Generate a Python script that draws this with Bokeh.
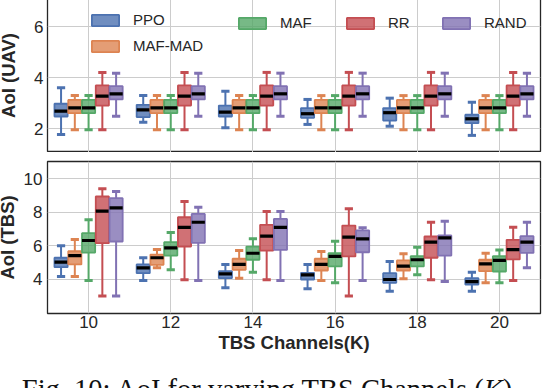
import numpy as np
from bokeh.plotting import figure
from bokeh.models import ColumnDataSource, FixedTicker, Legend, LegendItem, Div, Range1d
from bokeh.layouts import column
from bokeh.embed import file_html
from bokeh.resources import INLINE

# ---------------- data ----------------
K = [10, 12, 14, 16, 18, 20]
series = ["PPO", "MAF-MAD", "MAF", "RR", "RAND"]
colors = ["#4C72B0", "#DD8452", "#55A868", "#C44E52", "#8172B3"]
x_ticks = [10, 12, 14, 16, 18, 20]
uav_ticks = [2, 4, 6]
tbs_ticks = [4, 6, 8, 10]

# AoI (UAV): lower whisker, q1, median, q3, upper whisker
uav_ppo_lo = [1.76, 2.25, 2.03, 2.16, 2.09, 1.73]
uav_ppo_q1 = [2.47, 2.45, 2.47, 2.42, 2.31, 2.21]
uav_ppo_med = [2.68, 2.73, 2.64, 2.58, 2.62, 2.38]
uav_ppo_q3 = [2.97, 2.93, 2.90, 2.80, 2.80, 2.54]
uav_ppo_hi = [3.60, 3.29, 3.46, 3.14, 3.19, 3.03]

uav_mafmad_lo = [1.95, 1.95, 1.95, 1.95, 1.95, 1.95]
uav_mafmad_q1 = [2.60, 2.60, 2.60, 2.60, 2.60, 2.60]
uav_mafmad_med = [2.81, 2.81, 2.81, 2.81, 2.81, 2.81]
uav_mafmad_q3 = [3.12, 3.12, 3.12, 3.12, 3.12, 3.12]
uav_mafmad_hi = [3.29, 3.29, 3.29, 3.29, 3.29, 3.29]

uav_maf_lo = [1.95, 1.95, 1.95, 1.95, 1.95, 1.95]
uav_maf_q1 = [2.60, 2.60, 2.60, 2.60, 2.60, 2.60]
uav_maf_med = [2.81, 2.81, 2.81, 2.81, 2.81, 2.81]
uav_maf_q3 = [3.12, 3.12, 3.12, 3.12, 3.12, 3.12]
uav_maf_hi = [3.29, 3.29, 3.29, 3.29, 3.29, 3.29]

uav_rr_lo = [1.95, 1.95, 1.95, 1.95, 1.95, 1.95]
uav_rr_q1 = [2.90, 2.90, 2.90, 2.90, 2.90, 2.90]
uav_rr_med = [3.27, 3.27, 3.27, 3.27, 3.27, 3.27]
uav_rr_q3 = [3.69, 3.69, 3.69, 3.69, 3.69, 3.69]
uav_rr_hi = [4.20, 4.20, 4.20, 4.20, 4.20, 4.20]

uav_rand_lo = [2.48, 2.48, 2.48, 2.48, 2.48, 2.48]
uav_rand_q1 = [3.14, 3.14, 3.14, 3.14, 3.14, 3.14]
uav_rand_med = [3.36, 3.36, 3.36, 3.36, 3.36, 3.36]
uav_rand_q3 = [3.66, 3.66, 3.66, 3.66, 3.66, 3.66]
uav_rand_hi = [4.17, 4.17, 4.17, 4.17, 4.17, 4.17]

# AoI (TBS)
tbs_ppo_lo = [4.16, 3.92, 3.49, 3.43, 3.28, 3.28]
tbs_ppo_q1 = [4.72, 4.36, 4.06, 3.98, 3.78, 3.68]
tbs_ppo_med = [5.02, 4.68, 4.32, 4.26, 3.98, 3.86]
tbs_ppo_q3 = [5.28, 4.88, 4.48, 4.38, 4.36, 4.06]
tbs_ppo_hi = [6.00, 5.28, 4.88, 4.88, 5.06, 4.42]

tbs_mafmad_lo = [4.16, 4.68, 4.06, 3.92, 4.02, 3.78]
tbs_mafmad_q1 = [4.88, 4.86, 4.56, 4.52, 4.52, 4.48]
tbs_mafmad_med = [5.41, 5.28, 4.88, 4.88, 4.78, 4.92]
tbs_mafmad_q3 = [5.67, 5.47, 5.22, 5.22, 5.12, 5.16]
tbs_mafmad_hi = [6.37, 5.77, 5.71, 5.65, 5.52, 5.55]

tbs_maf_lo = [3.92, 4.56, 4.42, 3.78, 4.26, 3.78]
tbs_maf_q1 = [5.59, 5.41, 5.16, 4.76, 4.76, 4.46]
tbs_maf_med = [6.31, 5.87, 5.55, 5.36, 5.16, 5.12]
tbs_maf_q3 = [6.75, 6.21, 5.95, 5.55, 5.37, 5.37]
tbs_maf_hi = [7.55, 6.79, 6.41, 6.27, 5.91, 5.75]

tbs_rr_lo = [2.99, 3.96, 3.96, 2.99, 3.96, 3.92]
tbs_rr_q1 = [6.15, 5.95, 5.71, 5.36, 5.28, 5.18]
tbs_rr_med = [8.06, 7.10, 6.57, 6.51, 6.21, 5.77]
tbs_rr_q3 = [8.94, 7.70, 7.25, 7.20, 6.55, 6.35]
tbs_rr_hi = [9.40, 8.64, 8.04, 8.20, 7.40, 7.10]

tbs_rand_lo = [2.99, 3.92, 3.92, 3.92, 3.86, 4.68]
tbs_rand_q1 = [6.25, 6.17, 5.75, 5.61, 5.41, 5.57]
tbs_rand_med = [8.26, 7.40, 7.10, 6.41, 6.47, 6.21]
tbs_rand_q3 = [8.84, 7.90, 7.60, 6.91, 6.61, 6.57]
tbs_rand_hi = [9.24, 8.30, 8.04, 7.07, 7.46, 7.40]

uav_data = [
    (uav_ppo_lo, uav_ppo_q1, uav_ppo_med, uav_ppo_q3, uav_ppo_hi),
    (uav_mafmad_lo, uav_mafmad_q1, uav_mafmad_med, uav_mafmad_q3, uav_mafmad_hi),
    (uav_maf_lo, uav_maf_q1, uav_maf_med, uav_maf_q3, uav_maf_hi),
    (uav_rr_lo, uav_rr_q1, uav_rr_med, uav_rr_q3, uav_rr_hi),
    (uav_rand_lo, uav_rand_q1, uav_rand_med, uav_rand_q3, uav_rand_hi),
]
tbs_data = [
    (tbs_ppo_lo, tbs_ppo_q1, tbs_ppo_med, tbs_ppo_q3, tbs_ppo_hi),
    (tbs_mafmad_lo, tbs_mafmad_q1, tbs_mafmad_med, tbs_mafmad_q3, tbs_mafmad_hi),
    (tbs_maf_lo, tbs_maf_q1, tbs_maf_med, tbs_maf_q3, tbs_maf_hi),
    (tbs_rr_lo, tbs_rr_q1, tbs_rr_med, tbs_rr_q3, tbs_rr_hi),
    (tbs_rand_lo, tbs_rand_q1, tbs_rand_med, tbs_rand_q3, tbs_rand_hi),
]

# ---------------- style ----------------
offsets = [-0.67, -0.335, 0.0, 0.335, 0.67]
BOX_W = 0.32
CAP_W = 0.2
FONT = "Liberation Sans"
TXT = "#262626"
SHIFT = 13           # layout pulled left so the frame lands at x=47
LEFT = 47 + SHIFT
RIGHT = 2
W = 542 + SHIFT


def style(p, yticks, ylabel, label_standoff, tick_standoff):
    p.outline_line_color = TXT
    p.outline_line_width = 1.3
    p.xgrid.ticker = FixedTicker(ticks=x_ticks)
    p.ygrid.ticker = FixedTicker(ticks=yticks)
    p.grid.grid_line_color = "#cccccc"
    p.grid.grid_line_width = 1
    p.yaxis.ticker = FixedTicker(ticks=yticks)
    p.xaxis.ticker = FixedTicker(ticks=x_ticks)
    for ax in p.axis:
        ax.axis_line_color = None
        ax.major_tick_line_color = None
        ax.minor_tick_line_color = None
        ax.major_tick_out = 0
        ax.major_tick_in = 0
        ax.minor_tick_out = 0
        ax.minor_tick_in = 0
        ax.major_label_text_font = FONT
        ax.major_label_text_font_size = "17px"
        ax.major_label_text_color = TXT
        ax.axis_label_text_font = FONT
        ax.axis_label_text_font_size = "18.5px"
        ax.axis_label_text_font_style = "bold"
        ax.axis_label_text_color = TXT
    p.yaxis.axis_label = ylabel
    p.yaxis.major_label_standoff = tick_standoff
    p.yaxis.axis_label_standoff = label_standoff


def draw_boxes(p, data):
    rends = []
    for (lo, q1, med, q3, hi), off, col in zip(data, offsets, colors):
        x = np.array(K, dtype=float) + off
        src = ColumnDataSource(dict(
            x=x, lo=lo, q1=q1, med=med, q3=q3, hi=hi,
            cx0=x - CAP_W / 2, cx1=x + CAP_W / 2,
            mx0=x - BOX_W / 2, mx1=x + BOX_W / 2,
        ))
        p.segment("x", "lo", "x", "q1", source=src, line_color=col, line_width=2)
        p.segment("x", "q3", "x", "hi", source=src, line_color=col, line_width=2)
        p.segment("cx0", "lo", "cx1", "lo", source=src, line_color=col, line_width=3)
        p.segment("cx0", "hi", "cx1", "hi", source=src, line_color=col, line_width=3)
        r = p.vbar(x="x", width=BOX_W, bottom="q1", top="q3", source=src,
                   fill_color=col, fill_alpha=0.8, line_color=col, line_width=1.8)
        p.segment("mx0", "med", "mx1", "med", source=src, line_color="black", line_width=3.2)
        rends.append(r)
    return rends


# ---------------- top panel ----------------
P1H = 154
p1 = figure(width=W, height=P1H, output_backend="svg", toolbar_location=None,
            x_range=Range1d(9, 21), y_range=Range1d(1.059, 7.098),
            min_border_left=LEFT, min_border_right=RIGHT,
            min_border_top=0, min_border_bottom=0)
style(p1, uav_ticks, "AoI (UAV)", 12, 4)
p1.xaxis.visible = False
rends = draw_boxes(p1, uav_data)

# legend: 4 columns filled column-wise (PPO/MAF-MAD, MAF, RR, RAND)
leg_cols = [[0, 1], [2], [3], [4]]
leg_x = [41, 188, 296, 392]
for idxs, lx in zip(leg_cols, leg_x):
    items = [LegendItem(label=series[i], renderers=[rends[i]]) for i in idxs]
    top_y = P1H - 19
    h = len(idxs) * 14 + (len(idxs) - 1) * 9
    lg = Legend(items=items, location=(lx, top_y - h), orientation="vertical",
                glyph_width=34, glyph_height=14, label_height=14, label_width=10,
                spacing=9, label_standoff=11, padding=0, margin=0,
                background_fill_alpha=0, border_line_alpha=0,
                label_text_font=FONT, label_text_font_size="15px",
                label_text_color=TXT)
    p1.add_layout(lg)

# ---------------- bottom panel ----------------
p2 = figure(width=W, height=205, output_backend="svg", toolbar_location=None,
            x_range=Range1d(9, 21), y_range=Range1d(1.95, 11.03),
            min_border_left=LEFT, min_border_right=RIGHT,
            min_border_top=9, min_border_bottom=44)
style(p2, tbs_ticks, "AoI (TBS)", 3, 5)
p2.xaxis.axis_label = "TBS Channels(K)"
p2.xaxis.major_label_standoff = 2
p2.xaxis.axis_label_standoff = 1
draw_boxes(p2, tbs_data)

caption = Div(
    text='<div style="font-family:\'Liberation Serif\'; font-size:28.5px; line-height:28px; '
         'padding-top:14px; margin-left:%dpx; width:532px; text-align:center; white-space:nowrap; color:#111;">'
         'Fig. 10: AoI for varying TBS Channels (<i>K</i>)</div>' % (SHIFT - 4),
    width=W, height=31, styles={"overflow": "hidden"})

layout = column(p1, p2, caption, spacing=0, margin=(-2, 0, 0, -SHIFT))

open("out.html", "w").write(file_html(layout, INLINE))
